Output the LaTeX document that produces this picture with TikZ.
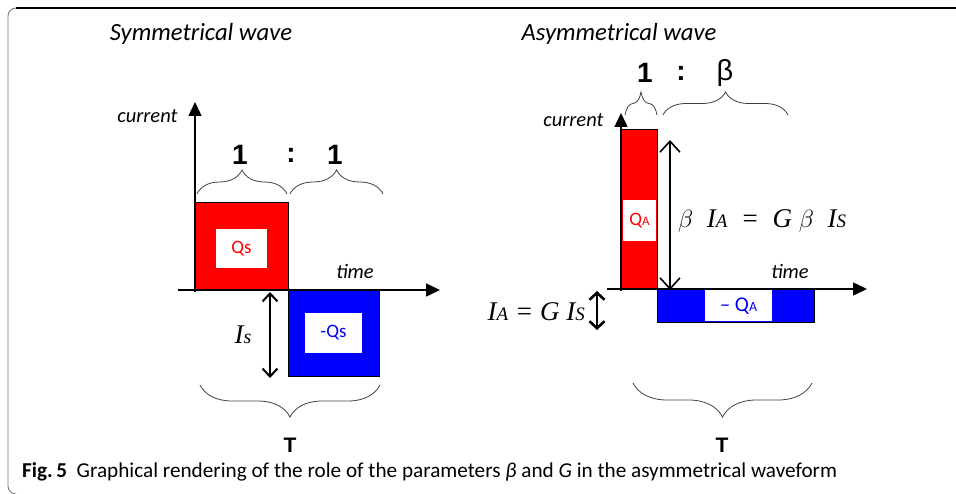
\documentclass[tikz,border=0pt]{standalone}
\usepackage{fontspec}
\setmainfont{Liberation Serif}
\newfontfamily\calfont{Carlito}
\newfontfamily\arifont{Liberation Sans}
\usetikzlibrary{arrows.meta,decorations.pathreplacing}
\begin{document}
\begin{tikzpicture}[x=1pt,y=-1pt,
  ttl/.style={font=\calfont\itshape\fontsize{24.7}{25}\selectfont},
  lbl/.style={font=\calfont\itshape\fontsize{20.5}{21}\selectfont},
  qlbl/.style={font=\calfont\fontsize{19}{19}\selectfont},
  ratio/.style={font=\arifont\bfseries\fontsize{28}{28}\selectfont},
  tlbl/.style={font=\arifont\bfseries\fontsize{21}{21}\selectfont},
  mth/.style={font=\itshape\fontsize{27}{27}\selectfont},
  axis/.style={line width=1.5pt,-{Triangle[length=14pt,width=13pt]}},
  dbl/.style={line width=2pt,{Straight Barb[length=8pt,width=15pt]}-{Straight Barb[length=8pt,width=15pt]}},
  brc/.style={decorate,decoration={brace,amplitude=#1},line width=0.8pt,draw=black!75},
  wbox/.style={fill=white,inner sep=0pt},
]
\useasboundingbox (0,0) rectangle (956,494);
% frame
\draw[black!55,line width=0.8pt] (16,494) arc[start angle=90,end angle=180,radius=8] -- (8,16) arc[start angle=180,end angle=270,radius=8];
\draw[black,line width=1.3pt] (16,8) -- (956,8);
% titles
\node[ttl] (t1) at (201,34) {Symmetrical wave};
\node[ttl] (t2) at (619,34) {Asymmetrical wave};

% ===== Symmetrical =====
\node[draw=black,fill=red,line width=0.8pt,minimum width=93pt,minimum height=87pt,inner sep=0pt,anchor=south west] (rs) at (195,290) {};
\node[wbox,minimum width=51pt,minimum height=39pt,text=red,qlbl] (qs) at (241.5,248.5) {Qs};
\node[draw=black,fill=blue,line width=0.8pt,minimum width=91pt,minimum height=86pt,inner sep=0pt,anchor=north west] (bs) at (288,290) {};
\node[wbox,minimum width=57pt,minimum height=40pt,text=blue,qlbl] (mqs) at (333.5,333) {-Qs};
\coordinate (ox1) at (178,290);
\coordinate (xe1) at (440,290);
\coordinate (oy1) at (195,292);
\coordinate (ye1) at (195,102);
\draw[axis] (ox1) -- (xe1);
\draw[axis] (oy1) -- (ye1);
\node[lbl,anchor=east] (cur1) at (181,116) {current};
\node[lbl] (tim1) at (355,271) {time};
\coordinate (is1) at (270,292);
\coordinate (is2) at (270,378);
\draw[dbl] (is1) -- (is2);
\node[mth] (islbl) at (243,335) {I\fontsize{20}{20}\selectfont s};
\node[ratio] (r1) at (240,155) {1};
\node[ratio] (r2) at (291,155) {:};
\node[ratio] (r3) at (335,155) {1};
\coordinate (b1a) at (197,194); \coordinate (b1b) at (287,194);
\coordinate (b2a) at (290,194); \coordinate (b2b) at (383,194);
\draw[brc=24pt] (b1a) -- (b1b);
\draw[brc=24pt] (b2a) -- (b2b);
\coordinate (b3a) at (380,385); \coordinate (b3b) at (200,385);
\draw[brc=32pt] (b3a) -- (b3b);
\node[tlbl] (T1) at (290,445) {T};

% ===== Asymmetrical =====
\node[draw=black,fill=red,line width=0.8pt,minimum width=36pt,minimum height=160pt,inner sep=0pt,anchor=south west] (ra) at (621,290) {};
\node[wbox,minimum width=33pt,minimum height=41pt,text=red,qlbl] (qa) at (639.5,221) {Q\fontsize{13}{13}\selectfont A};
\node[draw=black,fill=blue,line width=0.8pt,minimum width=157pt,minimum height=33pt,inner sep=0pt,anchor=north west] (ba) at (657,289) {};
\node[wbox,minimum width=67pt,minimum height=31pt,text=blue,font=\calfont\fontsize{21}{21}\selectfont] (mqa) at (738.5,306) {– Q\fontsize{14}{14}\selectfont A};
\coordinate (ox2) at (607,289);
\coordinate (xe2) at (867,289);
\coordinate (oy2) at (621,291);
\coordinate (ye2) at (621,113);
\draw[axis] (ox2) -- (xe2);
\draw[axis] (oy2) -- (ye2);
\node[lbl,anchor=east] (cur2) at (607,120) {current};
\node[lbl] (tim2) at (790,271) {time};
\coordinate (ba1) at (670,140);
\coordinate (ba2) at (670,290);
\draw[line width=1.6pt,{Straight Barb[length=11pt,width=20pt]}-{Straight Barb[length=11pt,width=20pt]}] (ba1) -- (ba2);
\node[mth,anchor=west,inner sep=0pt] (blbl) at (678,221) {$\beta$\ \ I\fontsize{19}{19}\selectfont A\fontsize{27}{27}\selectfont\ \ =\ \ G\ $\beta$\ \ I\fontsize{19}{19}\selectfont S};
\coordinate (sa1) at (597,291);
\coordinate (sa2) at (597,330);
\draw[line width=2.6pt,{Straight Barb[length=7pt,width=15pt]}-{Straight Barb[length=7pt,width=15pt]}] (sa1) -- (sa2);
\node[mth,anchor=east,inner sep=0pt] (albl) at (585,312) {I\fontsize{19}{19}\selectfont A\fontsize{27}{27}\selectfont\ = G I\fontsize{19}{19}\selectfont S};
\node[ratio] (q1) at (645,73) {1};
\node[ratio] (q2) at (681,73) {:};
\node[font=\arifont\fontsize{29}{29}\selectfont] (q3) at (725,73) {β};
\coordinate (b4a) at (625,115); \coordinate (b4b) at (657,115);
\coordinate (b5a) at (663,115); \coordinate (b5b) at (788,115);
\draw[brc=23pt] (b4a) -- (b4b);
\draw[brc=23pt] (b5a) -- (b5b);
\coordinate (b6a) at (812,383); \coordinate (b6b) at (633,383);
\draw[brc=34pt] (b6a) -- (b6b);
\node[tlbl] (T2) at (722,445) {T};

% caption
\node[anchor=base west,font=\calfont\fontsize{21.2}{21}\selectfont,inner sep=0pt] (cap) at (22,477) {\textbf{Fig.\,5}\ \ Graphical rendering of the role of the parameters \textit{β} and \textit{G} in the asymmetrical waveform};
\end{tikzpicture}
\end{document}
